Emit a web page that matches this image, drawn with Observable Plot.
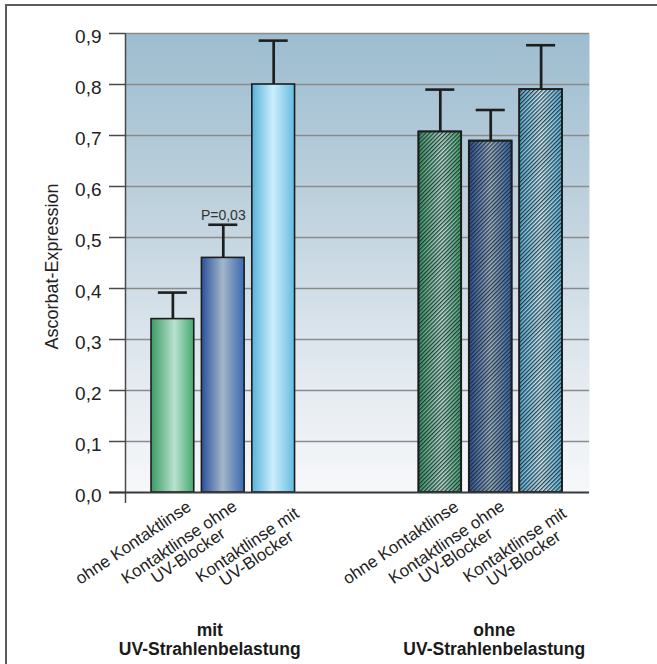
<!DOCTYPE html>
<html><head><meta charset="utf-8">
<script src="https://cdn.jsdelivr.net/npm/d3@7"></script>
<script src="https://cdn.jsdelivr.net/npm/@observablehq/plot@0.6"></script>
<style>
html,body{margin:0;padding:0;background:#fff;overflow:hidden}
#wrap{position:relative;width:657px;height:664px}
#border{position:absolute;left:5px;top:4px;width:700px;height:700px;border-left:2px solid #5c5c5c;border-top:2px solid #5c5c5c;pointer-events:none}
</style></head><body><div id="wrap"><div id="chart"></div><div id="border"></div></div>
<script>
// ---- data ----
const groups = ["mit\nUV-Strahlenbelastung", "ohne\nUV-Strahlenbelastung"];
const categories = ["ohne Kontaktlinse", "Kontaktlinse ohne\nUV-Blocker", "Kontaktlinse mit\nUV-Blocker"];
const valuesMit = [0.34, 0.46, 0.80];
const errorMit = [0.052, 0.065, 0.086];
const valuesOhne = [0.707, 0.689, 0.790];
const errorOhne = [0.083, 0.061, 0.087];
const yTicks = [0, 0.1, 0.2, 0.3, 0.4, 0.5, 0.6, 0.7, 0.8, 0.9];
const yTickLabels = ["0,0", "0,1", "0,2", "0,3", "0,4", "0,5", "0,6", "0,7", "0,8", "0,9"];
const yLabel = "Ascorbat-Expression";
const annotations = [{group: 0, category: 1, text: "P=0,03"}];

// ---- layout ----
const groupGap = 5.306;
const xDomain = [-0.94, 8.266];
const halfBar = 0.424, capHalf = 0.288;
const sans = "'Liberation Sans', Arial, sans-serif";
const narrow = "'Liberation Sans Narrow', 'Arial Narrow', 'Liberation Sans', sans-serif";
const xFont = 17, xLineHeight = 0.95, theta = 34;
const labelAnchor = [[13, 7.5], [8.5, 7], [20, 14]];
const groupLabelShift = [-13.5 / 50.4, 3.5 / 50.4];
const groupFont = 17.5, groupTargetWidth = 182;
const pFont = 14, pTargetWidth = 34;

const values = [valuesMit, valuesOhne], errors = [errorMit, errorOhne];
const bars = [];
groups.forEach((gname, g) => categories.forEach((c, i) => {
  bars.push({g, i, x: g * groupGap + i, value: values[g][i], upper: values[g][i] + errors[g][i]});
}));
const barAt = (g, i) => bars.find(d => d.g === g && d.i === i);

const ctx = document.createElement("canvas").getContext("2d");
ctx.font = `${xFont}px 'Liberation Sans'`;
const t = theta * Math.PI / 180, ux = Math.cos(t), uy = -Math.sin(t);

const labelMarks = categories.map((c, i) => {
  const W = Math.max(...c.split("\n").map(s => ctx.measureText(s).width));
  const dx = labelAnchor[i][0] - (W / 2) * ux;
  const dy = labelAnchor[i][1] - (W / 2) * uy;
  return Plot.text(bars.filter(d => d.i === i), {
    x: "x", y: () => 0, text: () => c, rotate: -theta, textAnchor: "middle", lineAnchor: "top",
    lineHeight: xLineHeight, dx, dy, fontSize: xFont, fill: "#222", fontFamily: sans
  });
});

ctx.font = `bold ${groupFont}px ${narrow}`;
const groupScale = Math.min(1, groupTargetWidth / ctx.measureText("UV-Strahlenbelastung").width);
ctx.font = `${pFont}px ${narrow}`;
const pScale = Math.min(1, pTargetWidth / ctx.measureText(annotations[0].text).width);

const groupRows = groups.map((name, g) => ({
  name, x: d3.mean(bars.filter(d => d.g === g), d => d.x) + groupLabelShift[g]
}));

const barMarks = categories.map((c, i) => Plot.rectY(bars.filter(d => d.i === i), {
  x1: d => d.x - halfBar, x2: d => d.x + halfBar, y1: () => 0, y2: "value",
  fill: `url(#barGrad${i})`, stroke: "#1d1d1d", strokeWidth: 1.6
}));

const svg = Plot.plot({
  width: 657, height: 664,
  marginLeft: 125, marginRight: 68, marginTop: 33, marginBottom: 172,
  style: {fontFamily: sans, background: "transparent", overflow: "visible", color: "#222"},
  x: {domain: xDomain, axis: null},
  y: {domain: [0, 0.9], axis: null},
  marks: [
    Plot.frame({fill: "url(#bgGrad)", stroke: "none"}),
    Plot.ruleY(yTicks.filter(d => d > 0), {stroke: "#8b8b8b", strokeWidth: 1.4}),
    ...barMarks,
    Plot.rectY(bars.filter(d => d.g === 1), {
      x1: d => d.x - halfBar, x2: d => d.x + halfBar, y1: () => 0, y2: "value",
      fill: "url(#hatch)", stroke: "#1d1d1d", strokeWidth: 1.8
    }),
    Plot.ruleX(bars, {x: "x", y1: "value", y2: "upper", stroke: "#1e1e1e", strokeWidth: 2.7}),
    Plot.ruleY(bars, {y: "upper", x1: d => d.x - capHalf, x2: d => d.x + capHalf, stroke: "#1e1e1e", strokeWidth: 2.6}),
    // axes
    Plot.ruleY(yTicks, {x1: () => xDomain[0], x2: () => xDomain[0], insetLeft: -16, stroke: "#4a4a4a", strokeWidth: 1.5}),
    Plot.ruleX([xDomain[0]], {y1: () => 0.9, y2: () => 0, insetBottom: -11, stroke: "#4a4a4a", strokeWidth: 1.5}),
    Plot.ruleY([0], {x1: () => xDomain[0], x2: () => xDomain[1], insetLeft: -16, stroke: "#3a3a3a", strokeWidth: 2}),
    Plot.text(yTicks, {x: () => xDomain[0], y: d => d, text: (d, i) => yTickLabels[i], textAnchor: "end",
      dx: -24, dy: 3, fontSize: 19, fill: "#222"}),
    Plot.text([yLabel], {frameAnchor: "left", text: d => d, rotate: -90, textAnchor: "middle", lineAnchor: "bottom",
      dx: -68, dy: 3.5, fontSize: 18, fill: "#222"}),
    ...labelMarks,
    Plot.text(groupRows, {x: "x", y: () => 0, text: "name", lineAnchor: "top", dy: 129,
      fontWeight: "bold", fontSize: groupFont, lineHeight: 1.13, fontFamily: narrow, fill: "#1a1a1a",
      ariaLabel: "group-label"}),
    Plot.text(annotations.map(a => ({...a, ...barAt(a.group, a.category)})), {
      x: "x", y: "upper", text: "text", lineAnchor: "bottom", dy: -5, fontSize: pFont, fontFamily: narrow, fill: "#333",
      ariaLabel: "p-label"
    })
  ]
});

// condense the narrow-font labels if no narrow face is installed
svg.querySelectorAll('g[aria-label="group-label"] text').forEach(el => {
  el.setAttribute("transform", (el.getAttribute("transform") || "") + ` scale(${groupScale},1)`);
});
svg.querySelectorAll('g[aria-label="p-label"] text').forEach(el => {
  el.setAttribute("transform", (el.getAttribute("transform") || "") + ` scale(${pScale},1)`);
});

const defs = document.createElementNS("http://www.w3.org/2000/svg", "defs");
defs.innerHTML = `
<linearGradient id="bgGrad" x1="0" y1="0" x2="0" y2="1">
  <stop offset="0" stop-color="#9dbdd0"/><stop offset="0.35" stop-color="#bcd0dc"/>
  <stop offset="0.7" stop-color="#dfe7ee"/><stop offset="1" stop-color="#f7f8fa"/>
</linearGradient>
<linearGradient id="barGrad0" x1="0" y1="0" x2="1" y2="0">
  <stop offset="0" stop-color="#3a9a63"/><stop offset="0.55" stop-color="#b8e2d0"/><stop offset="1" stop-color="#45a870"/>
</linearGradient>
<linearGradient id="barGrad1" x1="0" y1="0" x2="1" y2="0">
  <stop offset="0" stop-color="#2a509c"/><stop offset="0.5" stop-color="#a2b7c8"/><stop offset="1" stop-color="#3a68b2"/>
</linearGradient>
<linearGradient id="barGrad2" x1="0" y1="0" x2="1" y2="0">
  <stop offset="0" stop-color="#58b2dc"/><stop offset="0.5" stop-color="#cdeefb"/><stop offset="1" stop-color="#62bbe2"/>
</linearGradient>
<pattern id="hatch" width="2.9" height="2.9" patternUnits="userSpaceOnUse" patternTransform="rotate(45)">
  <rect width="1.3" height="2.9" fill="#18242c" fill-opacity="0.85"/>
</pattern>`;
svg.insertBefore(defs, svg.firstChild);
document.getElementById("chart").appendChild(svg);
</script></body></html>
